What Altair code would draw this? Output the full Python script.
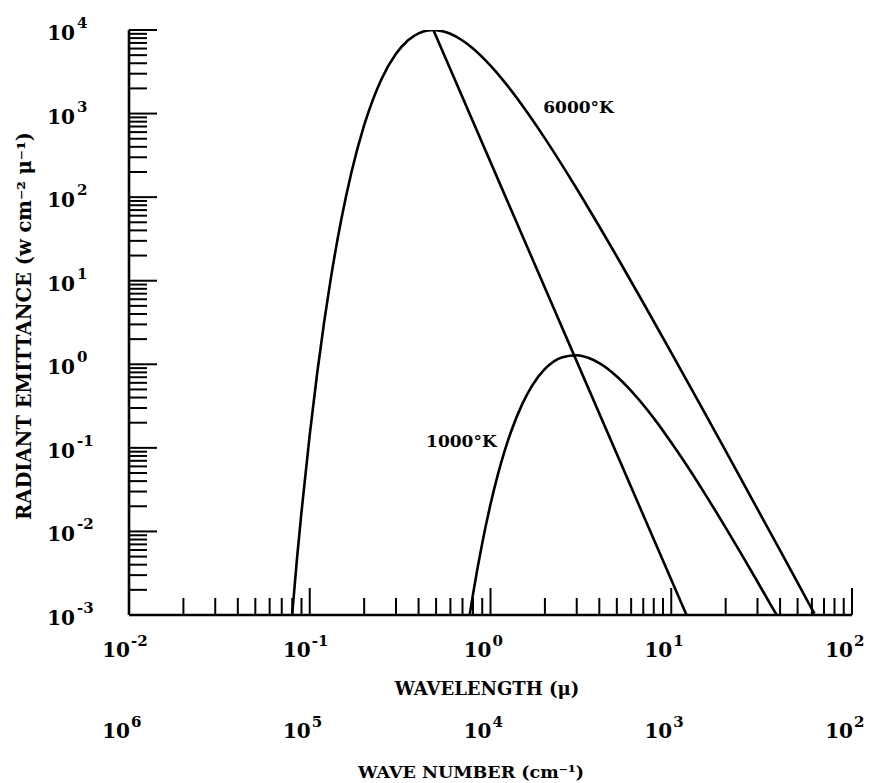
import altair as alt
import pandas as pd

# ---- data ----
wl_6000 = [0.0799, 0.085, 0.09, 0.1, 0.11, 0.12, 0.13, 0.15, 0.17, 0.2,
           0.25, 0.3, 0.35, 0.4, 0.45, 0.483, 0.5, 0.55, 0.6, 0.7, 0.8,
           1.0, 1.2, 1.5, 2, 3, 4, 5, 7, 10, 15,
           20, 30, 40, 50, 60, 62]
em_6000 = [1.0e-3, 4.72e-3, 1.70e-2, 0.144, 0.792, 3.15, 9.82, 56.2, 197, 725,
           2614, 5195, 7543, 9124, 9883, 10000, 9978, 9623, 9008, 7483, 5997,
           3742, 2359, 1249, 505, 126, 44.5, 19.5, 5.45, 1.38, 0.284,
           0.0918, 0.0185, 5.92e-3, 2.44e-3, 1.18e-3, 1.04e-3]

wl_1000 = [0.767, 0.8, 0.9, 1.0, 1.1, 1.2, 1.3, 1.5, 1.7, 2, 2.5, 3, 3.5, 4,
           5, 6, 8, 10, 12, 15, 20, 25, 30, 35, 38.3]
em_1000 = [1.0e-3, 1.765e-3, 7.23e-3, 0.0211, 0.0485, 0.0933, 0.157, 0.336,
           0.556, 0.879, 1.217, 1.283, 1.187, 1.030, 0.714, 0.481, 0.227,
           0.116, 0.0649, 0.0306, 0.0111, 4.92e-3, 2.50e-3, 1.40e-3, 1.0e-3]

wl_peak = [0.483, 2.898, 12.15]
em_peak = [1.0e4, 1.287, 1.0e-3]

curve_labels = ["6000°K", "1000°K"]
curve_label_wl = [3.07, 0.69]
curve_label_em = [1150, 0.117]

x_decades = [0.01, 0.1, 1, 10, 100]
x_exponents = ["-2", "-1", "0", "1", "2"]
wn_exponents = ["6", "5", "4", "3", "2"]
y_decades = [1e-3, 1e-2, 1e-1, 1, 10, 100, 1000, 10000]
y_exponents = ["-3", "-2", "-1", "0", "1", "2", "3", "4"]

x_minor = [m * d for d in [0.01, 0.1, 1, 10] for m in range(2, 10)]
y_minor = [m * d for d in [1e-3, 1e-2, 1e-1, 1, 10, 100, 1000] for m in range(2, 10)]

x_title = "WAVELENGTH (μ)"
wn_title = "WAVE NUMBER (cm⁻¹)"
y_title = "RADIANT EMITTANCE (w cm⁻² μ⁻¹)"

# ---- build ----
W, H = 723, 585
FONT = "DejaVu Serif"

curves = pd.concat([
    pd.DataFrame({"wl": wl_6000, "em": em_6000, "series": "6000"}),
    pd.DataFrame({"wl": wl_1000, "em": em_1000, "series": "1000"}),
    pd.DataFrame({"wl": wl_peak, "em": em_peak, "series": "peak"}),
])

xs = alt.Scale(type="log", domain=[0.01, 100], nice=False)
ys = alt.Scale(type="log", domain=[1e-3, 1e4], nice=False)

lines = alt.Chart(curves).mark_line(
    color="black", strokeWidth=2.6, clip=True, interpolate="monotone"
).encode(
    x=alt.X("wl:Q", scale=xs, axis=None),
    y=alt.Y("em:Q", scale=ys, axis=None),
    detail="series:N",
    order="wl:Q",
)

one = pd.DataFrame({"a": [0]})
x_axis_line = alt.Chart(one).mark_rule(color="black", strokeWidth=2.6).encode(
    x=alt.value(0), x2=alt.value(W), y=alt.value(H))
y_axis_line = alt.Chart(one).mark_rule(color="black", strokeWidth=2.6).encode(
    x=alt.value(0), y=alt.value(0), y2=alt.value(H))

xmaj = alt.Chart(pd.DataFrame({"v": x_decades})).mark_rule(color="black", strokeWidth=2).encode(
    x=alt.X("v:Q", scale=xs, axis=None), y=alt.value(H), y2=alt.value(H - 27))
xmin = alt.Chart(pd.DataFrame({"v": x_minor})).mark_rule(color="black", strokeWidth=2).encode(
    x=alt.X("v:Q", scale=xs, axis=None), y=alt.value(H), y2=alt.value(H - 17))
ymaj = alt.Chart(pd.DataFrame({"v": y_decades})).mark_rule(color="black", strokeWidth=2).encode(
    y=alt.Y("v:Q", scale=ys, axis=None), x=alt.value(0), x2=alt.value(28))
ymin = alt.Chart(pd.DataFrame({"v": y_minor})).mark_rule(color="black", strokeWidth=2).encode(
    y=alt.Y("v:Q", scale=ys, axis=None), x=alt.value(0), x2=alt.value(18))

xlab = pd.DataFrame({"v": x_decades, "base": "10", "exp": x_exponents, "wn": wn_exponents})
xbase = alt.Chart(xlab).mark_text(font=FONT, fontWeight="bold", fontSize=20, align="right",
                                  baseline="alphabetic", dx=1, color="black").encode(
    x=alt.X("v:Q", scale=xs, axis=None), y=alt.value(627), text="base:N")
xexp = alt.Chart(xlab).mark_text(font=FONT, fontWeight="bold", fontSize=15, align="left",
                                 baseline="alphabetic", dx=2, color="black").encode(
    x=alt.X("v:Q", scale=xs, axis=None), y=alt.value(616), text="exp:N")
wnbase = alt.Chart(xlab).mark_text(font=FONT, fontWeight="bold", fontSize=20, align="right",
                                   baseline="alphabetic", dx=1, color="black").encode(
    x=alt.X("v:Q", scale=xs, axis=None), y=alt.value(708), text="base:N")
wnexp = alt.Chart(xlab).mark_text(font=FONT, fontWeight="bold", fontSize=15, align="left",
                                  baseline="alphabetic", dx=2, color="black").encode(
    x=alt.X("v:Q", scale=xs, axis=None), y=alt.value(697), text="wn:N")

ylab = pd.DataFrame({"v": y_decades, "base": "10", "exp": y_exponents})
ybase = alt.Chart(ylab).mark_text(font=FONT, fontWeight="bold", fontSize=20, align="right",
                                  baseline="middle", dy=4, color="black").encode(
    y=alt.Y("v:Q", scale=ys, axis=None), x=alt.value(-54), text="base:N")
yexp = alt.Chart(ylab).mark_text(font=FONT, fontWeight="bold", fontSize=15, align="left",
                                 baseline="middle", dy=-7, color="black").encode(
    y=alt.Y("v:Q", scale=ys, axis=None), x=alt.value(-52), text="exp:N")

clab = pd.DataFrame({"wl": curve_label_wl, "em": curve_label_em, "t": curve_labels})
ctext = alt.Chart(clab).mark_text(font=FONT, fontWeight="bold", fontSize=17, align="center",
                                  baseline="middle", color="black").encode(
    x=alt.X("wl:Q", scale=xs, axis=None), y=alt.Y("em:Q", scale=ys, axis=None), text="t:N")

xt = alt.Chart(pd.DataFrame({"t": [x_title]})).mark_text(
    font=FONT, fontWeight="bold", fontSize=18, align="center", baseline="alphabetic", color="black"
).encode(x=alt.value(358), y=alt.value(665), text="t:N")
wt = alt.Chart(pd.DataFrame({"t": [wn_title]})).mark_text(
    font=FONT, fontWeight="bold", fontSize=17.5, align="center", baseline="alphabetic", color="black"
).encode(x=alt.value(342), y=alt.value(748), text="t:N")
yt = alt.Chart(pd.DataFrame({"t": [y_title]})).mark_text(
    font=FONT, fontWeight="bold", fontSize=19.5, align="center", baseline="middle", angle=270, color="black"
).encode(x=alt.value(-104), y=alt.value(296), text="t:N")

chart = alt.layer(
    lines, x_axis_line, y_axis_line, xmaj, xmin, ymaj, ymin,
    xbase, xexp, wnbase, wnexp, ybase, yexp, ctext, xt, wt, yt
).properties(
    width=W, height=H,
    autosize=alt.AutoSizeParams(type="none"),
    padding={"left": 129, "top": 30, "right": 19, "bottom": 168},
    background="white",
).configure_view(stroke=None)

chart.save("out.html", embed_options={"renderer": "svg", "actions": False})
